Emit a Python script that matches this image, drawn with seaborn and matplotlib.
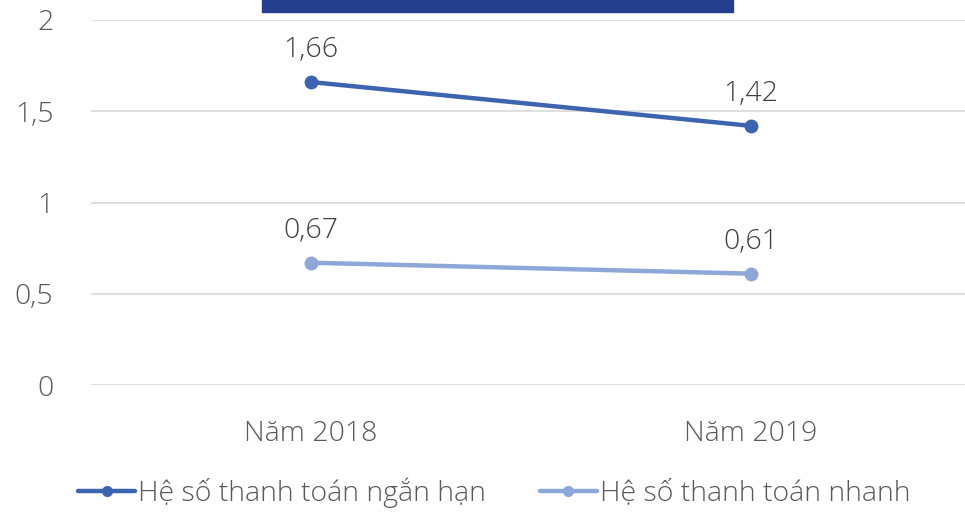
import matplotlib
matplotlib.use("Agg")
import matplotlib.pyplot as plt
import matplotlib.patches as mpatches
from matplotlib.lines import Line2D
import seaborn as sns
import pandas as pd

# Data
years = ["Năm 2018", "Năm 2019"]
series_names = ["Hệ số thanh toán ngắn hạn", "Hệ số thanh toán nhanh"]
ngan_han = [1.66, 1.42]
nhanh = [0.67, 0.61]
y_ticks = [0, 0.5, 1, 1.5, 2]
y_tick_labels = ["0", "0,5", "1", "1,5", "2"]

colors = ["#3D64B0", "#8EA7D9"]
text_color = "#595959"
FS = 20.5

df = pd.DataFrame({
    "year": years * 2,
    "pos": [0, 1] * 2,
    "value": ngan_han + nhanh,
    "series": [series_names[0]] * 2 + [series_names[1]] * 2,
})

sns.set_theme(style="white")
plt.rcParams["font.family"] = ["Open Sans", "DejaVu Sans"]
plt.rcParams["font.weight"] = "light"

W, H = 965, 513
fig = plt.figure(figsize=(W / 100, H / 100), dpi=100)
ax = fig.add_axes([91 / W, 1 - 385 / H, 880 / W, (385 - 20) / H])

sns.lineplot(data=df, x="pos", y="value", hue="series", palette=colors,
             marker="o", markersize=10, markeredgewidth=0, linewidth=3.2,
             ax=ax, legend=False, zorder=3)

ax.set_xlim(-0.5, 1.5)
ax.set_ylim(0, 2)
ax.set_yticks(y_ticks)
ax.set_yticklabels(y_tick_labels)
ax.set_xticks([0, 1])
ax.set_xticklabels(years)
ax.set_xlabel("")
ax.set_ylabel("")
ax.tick_params(axis="both", length=0, labelsize=FS, labelcolor=text_color)
ax.tick_params(axis="y", pad=27)
ax.tick_params(axis="x", pad=25)
for s in ax.spines.values():
    s.set_visible(False)
ax.grid(axis="y", color="#D9D9D9", linewidth=1.2)
ax.set_axisbelow(True)

# Data labels
for vals in (ngan_han, nhanh):
    for i, v in enumerate(vals):
        ax.annotate(f"{v:.2f}".replace(".", ","), (i, v), xytext=(0, 13),
                    textcoords="offset points", ha="center", va="bottom",
                    fontsize=FS, color="#404040")

# Title banner (top of figure)
fig.patches.append(mpatches.Rectangle((262 / W, 1 - 12 / H), (733 - 262) / W, 12 / H,
                                      transform=fig.transFigure, color="#253F8E",
                                      zorder=5))

# Legend
handles = [Line2D([0], [0], color=c, linewidth=3.2, marker="o", markersize=7)
           for c in colors]
fig.legend(handles, series_names, loc="center", bbox_to_anchor=(0.512, 1 - 493 / H),
           ncol=2, frameon=False, fontsize=FS, labelcolor=text_color,
           handlelength=2.0, handletextpad=0.1, columnspacing=1.9)

fig.savefig("out.png", dpi=100)
